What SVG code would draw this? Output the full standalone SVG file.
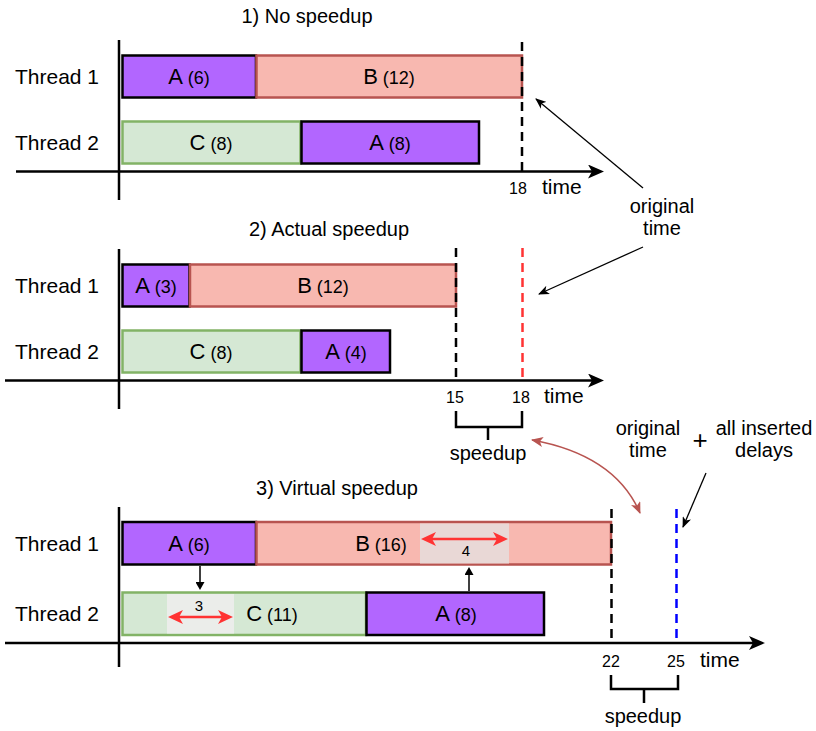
<svg xmlns="http://www.w3.org/2000/svg" width="816" height="731" viewBox="0 0 816 731">
<defs>
<style>
text { font-family: "Liberation Sans", Arial, Helvetica, sans-serif; fill: #000; }
.title { font-size: 20px; text-anchor: middle; }
.lbl { font-size: 21px; }
.num { font-size: 16px; text-anchor: middle; }
.ann { font-size: 20px; text-anchor: middle; }
.mid { text-anchor: middle; }
.big { font-size: 22px; }
.sm { font-size: 18px; }
.tiny { font-size: 15px; text-anchor: middle; }
.pa { fill: #B266FF; stroke: #000; stroke-width: 2.5; }
.pb { fill: #F8B8B0; stroke: #B85450; stroke-width: 2.5; }
.pc { fill: #D5E8D4; stroke: #82B366; stroke-width: 2.5; }
.axis { stroke: #000; stroke-width: 2.5; fill: none; }
.dash { stroke-width: 2.5; stroke-dasharray: 9 6; fill: none; }
.thin { stroke: #000; stroke-width: 1.3; fill: none; }
.brk { stroke: #000; stroke-width: 2.5; fill: none; }
.red { stroke: #FF3333; stroke-width: 2.5; fill: none; }
</style>
<marker id="ah" viewBox="0 0 16 14" refX="8" refY="7" markerWidth="16" markerHeight="14" markerUnits="userSpaceOnUse" orient="auto">
<path d="M0,0 L16,7 L0,14 L4,7 Z" fill="#000"/>
</marker>
<marker id="ta" viewBox="0 0 11 9" refX="10" refY="4.5" markerWidth="11" markerHeight="9" markerUnits="userSpaceOnUse" orient="auto">
<path d="M0,0 L11,4.5 L0,9 L3,4.5 Z" fill="#000"/>
</marker>
<marker id="fa" viewBox="0 0 8 9" refX="6" refY="4.5" markerWidth="8" markerHeight="9" markerUnits="userSpaceOnUse" orient="auto">
<path d="M0,0 L8,4.5 L0,9 Z" fill="#000"/>
</marker>
<marker id="ra" viewBox="0 0 15 14" refX="10" refY="7" markerWidth="15" markerHeight="14" markerUnits="userSpaceOnUse" orient="auto-start-reverse">
<path d="M0,0 L15,7 L0,14 L4,7 Z" fill="#FF3333"/>
</marker>
<marker id="ca" viewBox="0 0 12 10" refX="11" refY="5" markerWidth="12" markerHeight="10" markerUnits="userSpaceOnUse" orient="auto-start-reverse">
<path d="M0,0 L12,5 L0,10 L3,5 Z" fill="#B85450"/>
</marker>
</defs>

<g id="section1">
<text class="title" x="307" y="23">1) No speedup</text>
<text class="lbl" x="15" y="84">Thread 1</text>
<text class="lbl" x="15" y="150">Thread 2</text>
<g id="s1-A6"><rect class="pa" x="122.5" y="55.5" width="133.5" height="42"/><text class="mid" x="189" y="84"><tspan class="big">A</tspan><tspan class="sm"> (6)</tspan></text></g>
<g id="s1-B12"><rect class="pb" x="256.5" y="55.5" width="265.5" height="42"/><text class="mid" x="389" y="84"><tspan class="big">B</tspan><tspan class="sm"> (12)</tspan></text></g>
<g id="s1-C8"><rect class="pc" x="122.5" y="121.5" width="178" height="42"/><text class="mid" x="211" y="150"><tspan class="big">C</tspan><tspan class="sm"> (8)</tspan></text></g>
<g id="s1-A8"><rect class="pa" x="301.5" y="121.5" width="177.5" height="42"/><text class="mid" x="390" y="150"><tspan class="big">A</tspan><tspan class="sm"> (8)</tspan></text></g>
<text class="num" x="518" y="194">18</text>
<text class="lbl" x="542" y="194">time</text>
</g>

<g id="section2">
<text class="title" x="329" y="236">2) Actual speedup</text>
<text class="lbl" x="15" y="293">Thread 1</text>
<text class="lbl" x="15" y="359">Thread 2</text>
<g id="s2-A3"><rect class="pa" x="122.5" y="264.5" width="67" height="42"/><text class="mid" x="156" y="293"><tspan class="big">A</tspan><tspan class="sm"> (3)</tspan></text></g>
<g id="s2-B12"><rect class="pb" x="190" y="264.5" width="266" height="42"/><text class="mid" x="323" y="293"><tspan class="big">B</tspan><tspan class="sm"> (12)</tspan></text></g>
<g id="s2-C8"><rect class="pc" x="122.5" y="330.5" width="178" height="42"/><text class="mid" x="211" y="359"><tspan class="big">C</tspan><tspan class="sm"> (8)</tspan></text></g>
<g id="s2-A4"><rect class="pa" x="301.5" y="330.5" width="88.5" height="42"/><text class="mid" x="346" y="359"><tspan class="big">A</tspan><tspan class="sm"> (4)</tspan></text></g>
<text class="num" x="455" y="403">15</text>
<text class="num" x="521" y="403">18</text>
<text class="lbl" x="544" y="403">time</text>
<text class="ann" x="488" y="460">speedup</text>
</g>

<g id="section3">
<text class="title" x="337" y="495">3) Virtual speedup</text>
<text class="lbl" x="15" y="551">Thread 1</text>
<text class="lbl" x="15" y="621">Thread 2</text>
<g id="s3-A6"><rect class="pa" x="122.5" y="522" width="133.5" height="42.5"/><text class="mid" x="189" y="551"><tspan class="big">A</tspan><tspan class="sm"> (6)</tspan></text></g>
<g id="s3-B16"><rect class="pb" x="256.5" y="522" width="354.5" height="42.5"/><rect x="420" y="523.5" width="89" height="40" fill="#E9D8D6"/><text class="mid" x="381" y="551"><tspan class="big">B</tspan><tspan class="sm"> (16)</tspan></text><text class="tiny" x="466" y="556">4</text></g>
<g id="s3-C11"><rect class="pc" x="122.5" y="592.5" width="243.5" height="42.5"/><rect x="167" y="594" width="67" height="39.5" fill="#EBEDEA"/><text class="mid" x="272" y="621"><tspan class="big">C</tspan><tspan class="sm"> (11)</tspan></text><text class="tiny" x="199" y="611">3</text></g>
<g id="s3-A8"><rect class="pa" x="366.5" y="592.5" width="177.5" height="42.5"/><text class="mid" x="456" y="621"><tspan class="big">A</tspan><tspan class="sm"> (8)</tspan></text></g>
<text class="num" x="611" y="667">22</text>
<text class="num" x="676" y="667">25</text>
<text class="lbl" x="700" y="667">time</text>
<text class="ann" x="643" y="723">speedup</text>
</g>

<g id="annotations">
<text class="ann" x="662" y="213">original</text>
<text class="ann" x="662" y="235">time</text>
<text class="ann" x="648" y="435">original</text>
<text class="ann" x="648" y="457">time</text>
<text class="mid" x="700" y="449" style="font-size:26px">+</text>
<text class="ann" x="764" y="435">all inserted</text>
<text class="ann" x="764" y="457">delays</text>
</g>

<g id="connectors">
<line class="axis" x1="119" y1="40" x2="119" y2="200"/>
<line class="axis" x1="16" y1="171.5" x2="596" y2="171.5" marker-end="url(#ah)"/>
<line class="axis" x1="119" y1="249" x2="119" y2="409"/>
<line class="axis" x1="5" y1="380.5" x2="596" y2="380.5" marker-end="url(#ah)"/>
<line class="axis" x1="119" y1="507" x2="119" y2="667"/>
<line class="axis" x1="5" y1="643" x2="757" y2="643" marker-end="url(#ah)"/>
<line class="dash" stroke="#000" x1="522" y1="42" x2="522" y2="171"/>
<line class="dash" stroke="#000" x1="456" y1="248" x2="456" y2="380"/>
<line class="dash" stroke="#FF3333" x1="522.5" y1="248" x2="522.5" y2="380"/>
<line class="dash" stroke="#000" x1="611.5" y1="509" x2="611.5" y2="643"/>
<line class="dash" stroke="#0000FF" x1="676.5" y1="509" x2="676.5" y2="643"/>
<path class="brk" d="M456,411 V427 H522 V411 M488,427 V440"/>
<path class="brk" d="M611,675 V689 H678 V675 M644,689 V703"/>
<line class="thin" x1="643" y1="188" x2="536" y2="99" marker-end="url(#ta)"/>
<line class="thin" x1="643" y1="247" x2="539" y2="294" marker-end="url(#ta)"/>
<line class="thin" x1="706" y1="473" x2="683" y2="527" marker-end="url(#ta)"/>
<path d="M532,440 Q615,455 640,513" stroke="#B85450" stroke-width="1.5" fill="none" marker-start="url(#ca)" marker-end="url(#ca)"/>
<line stroke="#000" stroke-width="1.5" x1="200" y1="566" x2="200" y2="588" marker-end="url(#fa)"/>
<line stroke="#000" stroke-width="1.5" x1="469" y1="591" x2="469" y2="569" marker-end="url(#fa)"/>
<line class="red" x1="426" y1="539" x2="503" y2="539" marker-start="url(#ra)" marker-end="url(#ra)"/>
<line class="red" x1="173" y1="617" x2="228" y2="617" marker-start="url(#ra)" marker-end="url(#ra)"/>
</g>
</svg>
